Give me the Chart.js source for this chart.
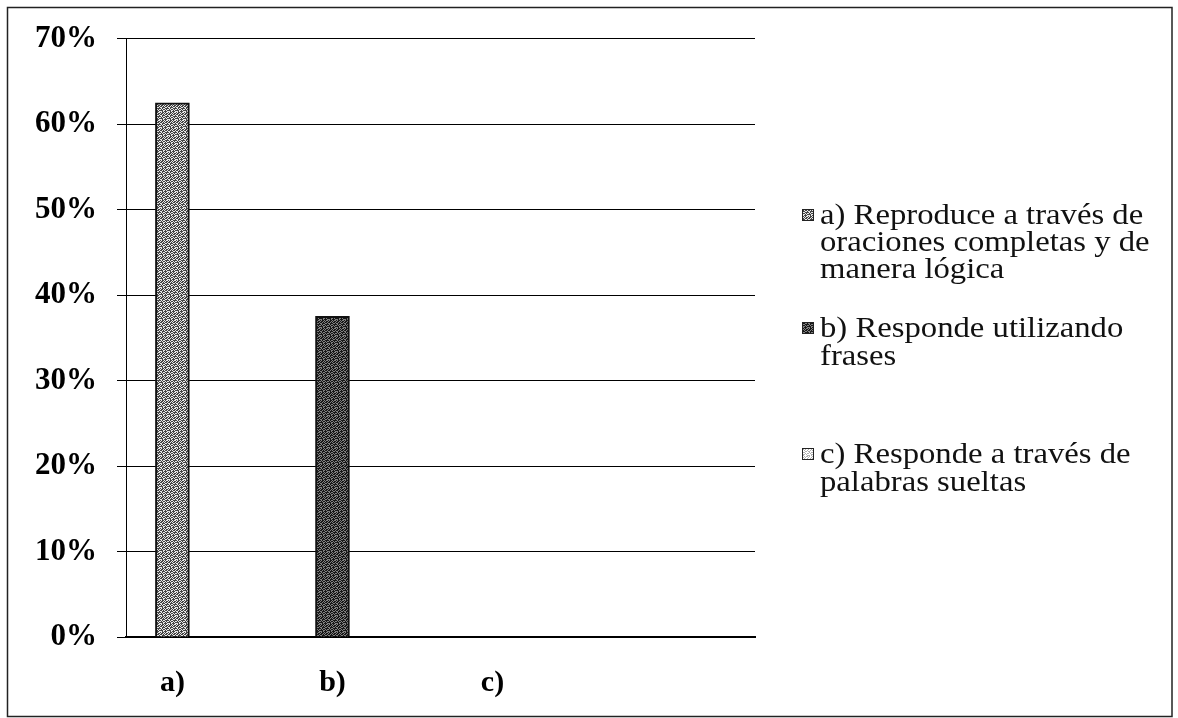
<!DOCTYPE html>
<html>
<head>
<meta charset="utf-8">
<script src="https://cdn.jsdelivr.net/npm/chart.js@4"></script>
<style>
html, body { margin: 0; padding: 0; background: #fff; }
canvas { display: block; }
</style>
</head>
<body>
<canvas id="chart" width="1178" height="718"></canvas>
<script>
'use strict';

// 데이터
const categories = ['a)', 'b)', 'c)'];
const values = [62.5, 37.5, 0];
const yTicks = [0, 10, 20, 30, 40, 50, 60, 70];
const legendLabels = [
    ['a) Reproduce a través de', 'oraciones completas y de', 'manera lógica'],
    ['b) Responde utilizando', 'frases'],
    ['c) Responde a través de', 'palabras sueltas']
];

const SERIF = '"Liberation Serif", "Times New Roman", serif';

// 스캔한 느낌의 점무늬 패턴 (고정 마스크)
const MASK = [
    '10110100',
    '01101011',
    '11010110',
    '00111001',
    '10100111',
    '01011010',
    '11100101',
    '00101110'
];

function makePattern(dark, light, invert) {
    const c = document.createElement('canvas');
    c.width = 8; c.height = 8;
    const g = c.getContext('2d');
    for (let y = 0; y < 8; y++) {
        for (let x = 0; x < 8; x++) {
            const on = MASK[y][x] === '1';
            g.fillStyle = (on !== invert) ? dark : light;
            g.fillRect(x, y, 1, 1);
        }
    }
    return g.createPattern(c, 'repeat');
}

const ctx = document.getElementById('chart').getContext('2d');
const patterns = [
    makePattern('#444444', '#e8e8e8', false),
    makePattern('#161616', '#808080', false),
    makePattern('#b0b0b0', '#ffffff', true)
];

// 바깥 테두리
const framePlugin = {
    id: 'frame',
    beforeDraw(chart) {
        const c = chart.ctx;
        c.save();
        c.fillStyle = '#fff';
        c.fillRect(0, 0, chart.width, chart.height);
        c.strokeStyle = '#222';
        c.lineWidth = 1.5;
        c.strokeRect(7.5, 7.5, 1164.5, 709);
        c.restore();
    }
};

// 오른쪽 범례 (스캔본처럼 가로로 조금 늘림)
const legendPlugin = {
    id: 'sideLegend',
    afterDraw(chart) {
        const c = chart.ctx;
        const baselines = [[224, 251, 278], [337, 365], [463, 491]];
        const stretch = 1.09;
        c.save();
        c.font = '30px ' + SERIF;
        c.textBaseline = 'alphabetic';
        legendLabels.forEach((lines, i) => {
            const by = baselines[i][0];
            c.fillStyle = patterns[i];
            c.fillRect(802, by - 15, 12, 12);
            c.strokeStyle = '#222';
            c.lineWidth = 1;
            c.strokeRect(802.5, by - 14.5, 11, 11);
            c.fillStyle = '#111';
            lines.forEach((t, j) => {
                c.save();
                c.translate(820, baselines[i][j]);
                c.scale(stretch, 1);
                c.fillText(t, 0, 0);
                c.restore();
            });
        });
        c.restore();
    }
};

new Chart(ctx, {
    type: 'bar',
    data: {
        datasets: [{
            data: values.map((v, i) => ({ x: i + 1, y: v })),
            backgroundColor: patterns,
            borderColor: '#111',
            borderWidth: 2,
            barThickness: 34
        }]
    },
    options: {
        responsive: false,
        animation: false,
        layout: { padding: { left: 0, right: 423, top: 38, bottom: 0 } },
        plugins: {
            legend: { display: false },
            tooltip: { enabled: false }
        },
        scales: {
            x: {
                type: 'linear',
                offset: false,
                min: 0.71,
                max: 4.64,
                afterBuildTicks: s => { s.ticks = categories.map((c, i) => ({ value: i + 1 })); },
                afterFit: s => { s.height = 81; },
                ticks: {
                    callback: v => categories[v - 1] || '',
                    font: { family: SERIF, size: 30, weight: 'bold' },
                    color: '#000',
                    padding: 28,
                    maxRotation: 0,
                    autoSkip: false
                },
                grid: { display: false, drawTicks: false, offset: false },
                border: { display: true, color: '#000', width: 2 }
            },
            y: {
                min: 0,
                max: 70,
                afterBuildTicks: s => { s.ticks = yTicks.map(v => ({ value: v })); },
                afterFit: s => { s.width = 126; },
                ticks: {
                    callback: v => v + '%',
                    font: { family: SERIF, size: 31, weight: 'bold' },
                    color: '#000',
                    padding: 20
                },
                grid: { color: '#000', lineWidth: 1, tickLength: 9, drawTicks: true },
                border: { color: '#000', width: 1 }
            }
        }
    },
    plugins: [framePlugin, legendPlugin]
});
</script>
</body>
</html>
